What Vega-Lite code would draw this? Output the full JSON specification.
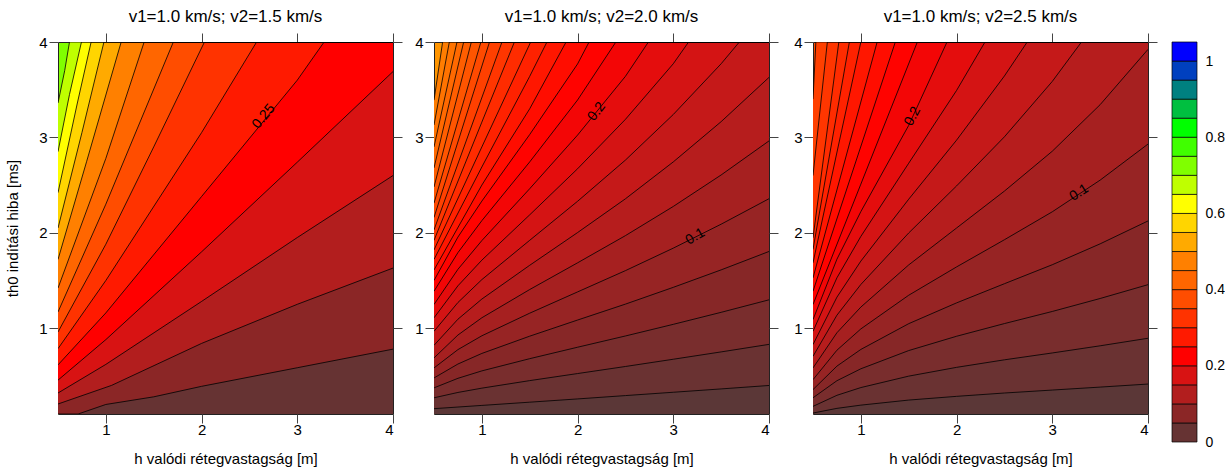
{
"$schema":"https://vega.github.io/schema/vega-lite/v6.json",
"padding":{"left":5,"top":7,"right":0,"bottom":0},
"background":"white",
"config":{"font":"Liberation Sans","view":{"stroke":"#222","strokeWidth":1},
"axis":{"grid":false,"domain":false,"tickColor":"#444","tickSize":9,"labelFontSize":15,"labelColor":"black","labelFont":"Liberation Sans","titleFont":"Liberation Sans","titleFontSize":15,"titleFontWeight":"normal","titleColor":"black"},
"title":{"fontSize":17,"fontWeight":"normal","color":"black","font":"Liberation Sans"}},
"datasets":{
"c":[
{"p":1,"lv":0.7,"h":0.5,"t":3.36},{"p":1,"lv":0.7,"h":0.57,"t":3.7},{"p":1,"lv":0.7,"h":0.62,"t":4},{"p":1,"lv":0.7,"h":4,"t":4},
{"p":1,"lv":0.65,"h":0.5,"t":2.85},{"p":1,"lv":0.65,"h":0.62,"t":3.45},{"p":1,"lv":0.65,"h":0.745,"t":4},{"p":1,"lv":0.65,"h":4,"t":4},
{"p":1,"lv":0.6,"h":0.5,"t":2.42},{"p":1,"lv":0.6,"h":0.7,"t":3.35},{"p":1,"lv":0.6,"h":0.846,"t":4},{"p":1,"lv":0.6,"h":4,"t":4},
{"p":1,"lv":0.55,"h":0.5,"t":2.05},{"p":1,"lv":0.55,"h":0.75,"t":3.05},{"p":1,"lv":0.55,"h":0.98,"t":4},{"p":1,"lv":0.55,"h":4,"t":4},
{"p":1,"lv":0.5,"h":0.5,"t":1.72},{"p":1,"lv":0.5,"h":0.8,"t":2.75},{"p":1,"lv":0.5,"h":1.16,"t":4},{"p":1,"lv":0.5,"h":4,"t":4},
{"p":1,"lv":0.45,"h":0.5,"t":1.42},{"p":1,"lv":0.45,"h":1,"t":2.78},{"p":1,"lv":0.45,"h":1.4,"t":4},{"p":1,"lv":0.45,"h":4,"t":4},
{"p":1,"lv":0.4,"h":0.5,"t":1.17},{"p":1,"lv":0.4,"h":1,"t":2.3},{"p":1,"lv":0.4,"h":1.705,"t":4},{"p":1,"lv":0.4,"h":4,"t":4},
{"p":1,"lv":0.35,"h":0.5,"t":0.96},{"p":1,"lv":0.35,"h":1,"t":1.88},{"p":1,"lv":0.35,"h":1.5,"t":2.9},{"p":1,"lv":0.35,"h":2.03,"t":4},{"p":1,"lv":0.35,"h":4,"t":4},
{"p":1,"lv":0.3,"h":0.5,"t":0.785},{"p":1,"lv":0.3,"h":1,"t":1.5},{"p":1,"lv":0.3,"h":2,"t":3.05},{"p":1,"lv":0.3,"h":2.575,"t":4},{"p":1,"lv":0.3,"h":4,"t":4},
{"p":1,"lv":0.25,"h":0.5,"t":0.615},{"p":1,"lv":0.25,"h":1,"t":1.16},{"p":1,"lv":0.25,"h":2,"t":2.38},{"p":1,"lv":0.25,"h":3,"t":3.6},{"p":1,"lv":0.25,"h":3.28,"t":4},{"p":1,"lv":0.25,"h":4,"t":4},
{"p":1,"lv":0.2,"h":0.5,"t":0.455},{"p":1,"lv":0.2,"h":1,"t":0.88},{"p":1,"lv":0.2,"h":2,"t":1.8},{"p":1,"lv":0.2,"h":3,"t":2.74},{"p":1,"lv":0.2,"h":4,"t":3.69},
{"p":1,"lv":0.15,"h":0.5,"t":0.32},{"p":1,"lv":0.15,"h":1,"t":0.62},{"p":1,"lv":0.15,"h":2,"t":1.28},{"p":1,"lv":0.15,"h":3,"t":1.95},{"p":1,"lv":0.15,"h":4,"t":2.6},
{"p":1,"lv":0.1,"h":0.5,"t":0.205},{"p":1,"lv":0.1,"h":1.06,"t":0.4},{"p":1,"lv":0.1,"h":2,"t":0.84},{"p":1,"lv":0.1,"h":3,"t":1.25},{"p":1,"lv":0.1,"h":4,"t":1.63},
{"p":1,"lv":0.05,"h":0.5,"t":0.1},{"p":1,"lv":0.05,"h":0.71,"t":0.1},{"p":1,"lv":0.05,"h":1,"t":0.2},{"p":1,"lv":0.05,"h":1.5,"t":0.28},{"p":1,"lv":0.05,"h":2,"t":0.39},{"p":1,"lv":0.05,"h":3,"t":0.585},{"p":1,"lv":0.05,"h":4,"t":0.78},

{"p":2,"lv":0.48,"h":0.5,"t":3.39},{"p":2,"lv":0.48,"h":0.59,"t":4},{"p":2,"lv":0.48,"h":4,"t":4},
{"p":2,"lv":0.46,"h":0.5,"t":3.13},{"p":2,"lv":0.46,"h":0.66,"t":4},{"p":2,"lv":0.46,"h":4,"t":4},
{"p":2,"lv":0.44,"h":0.5,"t":2.9},{"p":2,"lv":0.44,"h":0.74,"t":4},{"p":2,"lv":0.44,"h":4,"t":4},
{"p":2,"lv":0.42,"h":0.5,"t":2.68},{"p":2,"lv":0.42,"h":0.81,"t":4},{"p":2,"lv":0.42,"h":4,"t":4},
{"p":2,"lv":0.4,"h":0.5,"t":2.48},{"p":2,"lv":0.4,"h":0.89,"t":4},{"p":2,"lv":0.4,"h":4,"t":4},
{"p":2,"lv":0.38,"h":0.5,"t":2.31},{"p":2,"lv":0.38,"h":0.99,"t":4},{"p":2,"lv":0.38,"h":4,"t":4},
{"p":2,"lv":0.36,"h":0.5,"t":2.16},{"p":2,"lv":0.36,"h":1.08,"t":4},{"p":2,"lv":0.36,"h":4,"t":4},
{"p":2,"lv":0.34,"h":0.5,"t":2.03},{"p":2,"lv":0.34,"h":1.21,"t":4},{"p":2,"lv":0.34,"h":4,"t":4},
{"p":2,"lv":0.32,"h":0.5,"t":1.92},{"p":2,"lv":0.32,"h":1,"t":3.16},{"p":2,"lv":0.32,"h":1.34,"t":4},{"p":2,"lv":0.32,"h":4,"t":4},
{"p":2,"lv":0.3,"h":0.5,"t":1.82},{"p":2,"lv":0.3,"h":1,"t":2.9},{"p":2,"lv":0.3,"h":1.51,"t":4},{"p":2,"lv":0.3,"h":4,"t":4},
{"p":2,"lv":0.28,"h":0.5,"t":1.72},{"p":2,"lv":0.28,"h":1,"t":2.69},{"p":2,"lv":0.28,"h":1.5,"t":3.64},{"p":2,"lv":0.28,"h":1.68,"t":4},{"p":2,"lv":0.28,"h":4,"t":4},
{"p":2,"lv":0.26,"h":0.5,"t":1.61},{"p":2,"lv":0.26,"h":1,"t":2.5},{"p":2,"lv":0.26,"h":1.5,"t":3.3},{"p":2,"lv":0.26,"h":1.88,"t":4},{"p":2,"lv":0.26,"h":4,"t":4},
{"p":2,"lv":0.24,"h":0.5,"t":1.5},{"p":2,"lv":0.24,"h":0.75,"t":1.955},{"p":2,"lv":0.24,"h":1,"t":2.332},{"p":2,"lv":0.24,"h":1.5,"t":3.03},{"p":2,"lv":0.24,"h":2,"t":3.77},{"p":2,"lv":0.24,"h":2.12,"t":4},{"p":2,"lv":0.24,"h":4,"t":4},
{"p":2,"lv":0.22,"h":0.5,"t":1.387},{"p":2,"lv":0.22,"h":0.75,"t":1.792},{"p":2,"lv":0.22,"h":1,"t":2.127},{"p":2,"lv":0.22,"h":1.5,"t":2.743},{"p":2,"lv":0.22,"h":2,"t":3.392},{"p":2,"lv":0.22,"h":2.4,"t":4},{"p":2,"lv":0.22,"h":4,"t":4},
{"p":2,"lv":0.2,"h":0.5,"t":1.248},{"p":2,"lv":0.2,"h":0.75,"t":1.617},{"p":2,"lv":0.2,"h":1,"t":1.918},{"p":2,"lv":0.2,"h":1.5,"t":2.462},{"p":2,"lv":0.2,"h":2,"t":3.024},{"p":2,"lv":0.2,"h":2.5,"t":3.64},{"p":2,"lv":0.2,"h":2.74,"t":4},{"p":2,"lv":0.2,"h":4,"t":4},
{"p":2,"lv":0.18,"h":0.5,"t":1.108},{"p":2,"lv":0.18,"h":0.75,"t":1.444},{"p":2,"lv":0.18,"h":1,"t":1.713},{"p":2,"lv":0.18,"h":1.5,"t":2.188},{"p":2,"lv":0.18,"h":2,"t":2.671},{"p":2,"lv":0.18,"h":2.5,"t":3.189},{"p":2,"lv":0.18,"h":3,"t":3.772},{"p":2,"lv":0.18,"h":3.16,"t":4},{"p":2,"lv":0.18,"h":4,"t":4},
{"p":2,"lv":0.16,"h":0.5,"t":0.967},{"p":2,"lv":0.16,"h":0.75,"t":1.269},{"p":2,"lv":0.16,"h":1,"t":1.509},{"p":2,"lv":0.16,"h":1.5,"t":1.921},{"p":2,"lv":0.16,"h":2,"t":2.33},{"p":2,"lv":0.16,"h":2.5,"t":2.762},{"p":2,"lv":0.16,"h":3,"t":3.24},{"p":2,"lv":0.16,"h":3.5,"t":3.772},{"p":2,"lv":0.16,"h":3.69,"t":4},{"p":2,"lv":0.16,"h":4,"t":4},
{"p":2,"lv":0.14,"h":0.5,"t":0.82},{"p":2,"lv":0.14,"h":0.75,"t":1.094},{"p":2,"lv":0.14,"h":1,"t":1.305},{"p":2,"lv":0.14,"h":1.5,"t":1.659},{"p":2,"lv":0.14,"h":2,"t":2.002},{"p":2,"lv":0.14,"h":2.5,"t":2.356},{"p":2,"lv":0.14,"h":3,"t":2.743},{"p":2,"lv":0.14,"h":3.5,"t":3.165},{"p":2,"lv":0.14,"h":4,"t":3.629},
{"p":2,"lv":0.12,"h":0.5,"t":0.688},{"p":2,"lv":0.12,"h":0.75,"t":0.928},{"p":2,"lv":0.12,"h":1,"t":1.109},{"p":2,"lv":0.12,"h":1.5,"t":1.405},{"p":2,"lv":0.12,"h":2,"t":1.685},{"p":2,"lv":0.12,"h":2.5,"t":1.97},{"p":2,"lv":0.12,"h":3,"t":2.276},{"p":2,"lv":0.12,"h":3.5,"t":2.606},{"p":2,"lv":0.12,"h":4,"t":2.963},
{"p":2,"lv":0.1,"h":0.5,"t":0.583},{"p":2,"lv":0.1,"h":0.75,"t":0.775},{"p":2,"lv":0.1,"h":1,"t":0.92},{"p":2,"lv":0.1,"h":1.5,"t":1.157},{"p":2,"lv":0.1,"h":2,"t":1.38},{"p":2,"lv":0.1,"h":2.5,"t":1.603},{"p":2,"lv":0.1,"h":3,"t":1.839},{"p":2,"lv":0.1,"h":3.5,"t":2.09},{"p":2,"lv":0.1,"h":4,"t":2.357},
{"p":2,"lv":0.08,"h":0.5,"t":0.478},{"p":2,"lv":0.08,"h":0.75,"t":0.624},{"p":2,"lv":0.08,"h":1,"t":0.735},{"p":2,"lv":0.08,"h":1.5,"t":0.916},{"p":2,"lv":0.08,"h":2,"t":1.085},{"p":2,"lv":0.08,"h":2.5,"t":1.252},{"p":2,"lv":0.08,"h":3,"t":1.428},{"p":2,"lv":0.08,"h":3.5,"t":1.611},{"p":2,"lv":0.08,"h":4,"t":1.804},
{"p":2,"lv":0.06,"h":0.5,"t":0.374},{"p":2,"lv":0.06,"h":0.75,"t":0.474},{"p":2,"lv":0.06,"h":1,"t":0.552},{"p":2,"lv":0.06,"h":1.5,"t":0.68},{"p":2,"lv":0.06,"h":2,"t":0.8},{"p":2,"lv":0.06,"h":2.5,"t":0.918},{"p":2,"lv":0.06,"h":3,"t":1.04},{"p":2,"lv":0.06,"h":3.5,"t":1.166},{"p":2,"lv":0.06,"h":4,"t":1.297},
{"p":2,"lv":0.04,"h":0.5,"t":0.27},{"p":2,"lv":0.04,"h":0.75,"t":0.326},{"p":2,"lv":0.04,"h":1,"t":0.371},{"p":2,"lv":0.04,"h":1.5,"t":0.45},{"p":2,"lv":0.04,"h":2,"t":0.524},{"p":2,"lv":0.04,"h":2.5,"t":0.598},{"p":2,"lv":0.04,"h":3,"t":0.674},{"p":2,"lv":0.04,"h":3.5,"t":0.751},{"p":2,"lv":0.04,"h":4,"t":0.83},
{"p":2,"lv":0.02,"h":0.5,"t":0.156},{"p":2,"lv":0.02,"h":0.75,"t":0.173},{"p":2,"lv":0.02,"h":1,"t":0.19},{"p":2,"lv":0.02,"h":1.5,"t":0.224},{"p":2,"lv":0.02,"h":2,"t":0.258},{"p":2,"lv":0.02,"h":2.5,"t":0.293},{"p":2,"lv":0.02,"h":3,"t":0.328},{"p":2,"lv":0.02,"h":3.5,"t":0.363},{"p":2,"lv":0.02,"h":4,"t":0.399},

{"p":3,"lv":0.36,"h":0.5,"t":3.4},{"p":3,"lv":0.36,"h":0.53,"t":4},{"p":3,"lv":0.36,"h":4,"t":4},
{"p":3,"lv":0.34,"h":0.5,"t":2.6},{"p":3,"lv":0.34,"h":0.65,"t":4},{"p":3,"lv":0.34,"h":4,"t":4},
{"p":3,"lv":0.32,"h":0.5,"t":1.947},{"p":3,"lv":0.32,"h":0.77,"t":4},{"p":3,"lv":0.32,"h":4,"t":4},
{"p":3,"lv":0.3,"h":0.5,"t":1.825},{"p":3,"lv":0.3,"h":0.88,"t":4},{"p":3,"lv":0.3,"h":4,"t":4},
{"p":3,"lv":0.28,"h":0.5,"t":1.685},{"p":3,"lv":0.28,"h":1.0,"t":4},{"p":3,"lv":0.28,"h":4,"t":4},
{"p":3,"lv":0.26,"h":0.5,"t":1.527},{"p":3,"lv":0.26,"h":1.17,"t":4},{"p":3,"lv":0.26,"h":4,"t":4},
{"p":3,"lv":0.24,"h":0.5,"t":1.387},{"p":3,"lv":0.24,"h":1.36,"t":4},{"p":3,"lv":0.24,"h":4,"t":4},
{"p":3,"lv":0.22,"h":0.5,"t":1.248},{"p":3,"lv":0.22,"h":1,"t":2.51},{"p":3,"lv":0.22,"h":1.59,"t":4},{"p":3,"lv":0.22,"h":4,"t":4},
{"p":3,"lv":0.2,"h":0.5,"t":1.09},{"p":3,"lv":0.2,"h":0.75,"t":1.723},{"p":3,"lv":0.2,"h":1,"t":2.222},{"p":3,"lv":0.2,"h":1.5,"t":3.126},{"p":3,"lv":0.2,"h":1.9,"t":4},{"p":3,"lv":0.2,"h":4,"t":4},
{"p":3,"lv":0.18,"h":0.5,"t":0.967},{"p":3,"lv":0.18,"h":0.75,"t":1.528},{"p":3,"lv":0.18,"h":1,"t":1.962},{"p":3,"lv":0.18,"h":1.5,"t":2.729},{"p":3,"lv":0.18,"h":2,"t":3.492},{"p":3,"lv":0.18,"h":2.297,"t":4},{"p":3,"lv":0.18,"h":4,"t":4},
{"p":3,"lv":0.16,"h":0.5,"t":0.828},{"p":3,"lv":0.16,"h":0.75,"t":1.325},{"p":3,"lv":0.16,"h":1,"t":1.703},{"p":3,"lv":0.16,"h":1.5,"t":2.352},{"p":3,"lv":0.16,"h":2,"t":2.971},{"p":3,"lv":0.16,"h":2.5,"t":3.644},{"p":3,"lv":0.16,"h":2.738,"t":4},{"p":3,"lv":0.16,"h":4,"t":4},
{"p":3,"lv":0.14,"h":0.5,"t":0.705},{"p":3,"lv":0.14,"h":0.75,"t":1.136},{"p":3,"lv":0.14,"h":1,"t":1.458},{"p":3,"lv":0.14,"h":1.5,"t":1.998},{"p":3,"lv":0.14,"h":2,"t":2.491},{"p":3,"lv":0.14,"h":2.5,"t":3.006},{"p":3,"lv":0.14,"h":3,"t":3.587},{"p":3,"lv":0.14,"h":3.305,"t":4},{"p":3,"lv":0.14,"h":4,"t":4},
{"p":3,"lv":0.12,"h":0.5,"t":0.583},{"p":3,"lv":0.12,"h":0.75,"t":0.952},{"p":3,"lv":0.12,"h":1,"t":1.221},{"p":3,"lv":0.12,"h":1.5,"t":1.663},{"p":3,"lv":0.12,"h":2,"t":2.05},{"p":3,"lv":0.12,"h":2.5,"t":2.437},{"p":3,"lv":0.12,"h":3,"t":2.855},{"p":3,"lv":0.12,"h":3.5,"t":3.343},{"p":3,"lv":0.12,"h":4,"t":3.923},
{"p":3,"lv":0.1,"h":0.5,"t":0.46},{"p":3,"lv":0.1,"h":0.75,"t":0.769},{"p":3,"lv":0.1,"h":1,"t":0.992},{"p":3,"lv":0.1,"h":1.5,"t":1.345},{"p":3,"lv":0.1,"h":2,"t":1.642},{"p":3,"lv":0.1,"h":2.5,"t":1.927},{"p":3,"lv":0.1,"h":3,"t":2.22},{"p":3,"lv":0.1,"h":3.5,"t":2.552},{"p":3,"lv":0.1,"h":4,"t":2.93},
{"p":3,"lv":0.08,"h":0.5,"t":0.356},{"p":3,"lv":0.08,"h":0.75,"t":0.602},{"p":3,"lv":0.08,"h":1,"t":0.777},{"p":3,"lv":0.08,"h":1.5,"t":1.047},{"p":3,"lv":0.08,"h":2,"t":1.265},{"p":3,"lv":0.08,"h":2.5,"t":1.466},{"p":3,"lv":0.08,"h":3,"t":1.665},{"p":3,"lv":0.08,"h":3.5,"t":1.884},{"p":3,"lv":0.08,"h":4,"t":2.124},
{"p":3,"lv":0.06,"h":0.5,"t":0.27},{"p":3,"lv":0.06,"h":0.75,"t":0.449},{"p":3,"lv":0.06,"h":1,"t":0.574},{"p":3,"lv":0.06,"h":1.5,"t":0.765},{"p":3,"lv":0.06,"h":2,"t":0.915},{"p":3,"lv":0.06,"h":2.5,"t":1.048},{"p":3,"lv":0.06,"h":3,"t":1.175},{"p":3,"lv":0.06,"h":3.5,"t":1.311},{"p":3,"lv":0.06,"h":4,"t":1.456},
{"p":3,"lv":0.04,"h":0.5,"t":0.18},{"p":3,"lv":0.04,"h":0.75,"t":0.296},{"p":3,"lv":0.04,"h":1,"t":0.377},{"p":3,"lv":0.04,"h":1.5,"t":0.497},{"p":3,"lv":0.04,"h":2,"t":0.589},{"p":3,"lv":0.04,"h":2.5,"t":0.668},{"p":3,"lv":0.04,"h":3,"t":0.74},{"p":3,"lv":0.04,"h":3.5,"t":0.815},{"p":3,"lv":0.04,"h":4,"t":0.894},
{"p":3,"lv":0.02,"h":0.5,"t":0.11},{"p":3,"lv":0.02,"h":0.75,"t":0.159},{"p":3,"lv":0.02,"h":1,"t":0.193},{"p":3,"lv":0.02,"h":1.5,"t":0.246},{"p":3,"lv":0.02,"h":2,"t":0.285},{"p":3,"lv":0.02,"h":2.5,"t":0.32},{"p":3,"lv":0.02,"h":3,"t":0.351},{"p":3,"lv":0.02,"h":3.5,"t":0.382},{"p":3,"lv":0.02,"h":4,"t":0.414}
],
"lg":[
{"lo":0,"hi":0.05},{"lo":0.05,"hi":0.1},{"lo":0.1,"hi":0.15},{"lo":0.15,"hi":0.2},{"lo":0.2,"hi":0.25},{"lo":0.25,"hi":0.3},{"lo":0.3,"hi":0.35},{"lo":0.35,"hi":0.4},{"lo":0.4,"hi":0.45},{"lo":0.45,"hi":0.5},{"lo":0.5,"hi":0.55},{"lo":0.55,"hi":0.6},{"lo":0.6,"hi":0.65},{"lo":0.65,"hi":0.7},{"lo":0.7,"hi":0.75},{"lo":0.75,"hi":0.8},{"lo":0.8,"hi":0.85},{"lo":0.85,"hi":0.9},{"lo":0.9,"hi":0.95},{"lo":0.95,"hi":1.0},{"lo":1.0,"hi":1.05}
],
"lb":[
{"p":1,"lab":"0.25","h":2.65,"t":3.22},
{"p":2,"lab":"0.2","h":2.2,"t":3.27},
{"p":2,"lab":"0.1","h":3.23,"t":1.96},
{"p":3,"lab":"0.2","h":1.54,"t":3.22},
{"p":3,"lab":"0.1","h":3.28,"t":2.42}
]
},
"resolve":{"scale":{"color":"independent"}},
"bounds":"full",
"spacing":10,
"hconcat":[
{"width":335,"height":372,
"title":{"text":"v1=1.0 km/s; v2=1.5 km/s","offset":6.2},
"view":{"fill":"#80FF00","stroke":"#222"},
"resolve":{"axis":{"x":"independent","y":"independent"}},
"layer":[
{"data":{"name":"c"},"transform":[{"filter":"datum.p==1"}],
"mark":{"type":"area","clip":true},
"encoding":{
"x":{"field":"h","type":"quantitative","scale":{"domain":[0.5,4],"nice":false,"zero":false},"axis":{"values":[1,2,3,4],"orient":"bottom","title":"h valódi rétegvastagság [m]","labelPadding":-1,"titlePadding":14}},
"y":{"field":"t","type":"quantitative","stack":null,"scale":{"domain":[0.1,4],"nice":false,"zero":false},"axis":{"values":[1,2,3,4],"orient":"left","title":"th0 indítási hiba [ms]","labelPadding":2,"titlePadding":18}},
"y2":{"datum":0.1},
"color":{"field":"lv","type":"quantitative","legend":null,"scale":{"interpolate":"rgb","domain":[0.05,0.1,0.15,0.2,0.25,0.3,0.35,0.4,0.45,0.5,0.55,0.6,0.65,0.7,0.75,0.8,0.85,0.9,0.95,1.0,1.05],"range":["#663333","#8B2626","#B21E1E","#D81313","#FF0000","#FF1A00","#FF3300","#FF4D00","#FF6600","#FF8000","#FFAA00","#FFD500","#FFFF00","#BFFF00","#80FF00","#40FF00","#00FF00","#00BF40","#008080","#0040BF","#0000FF"]}}}},
{"data":{"name":"c"},"transform":[{"filter":"datum.p==1"}],
"mark":{"type":"line","stroke":"black","strokeWidth":0.8,"clip":true},
"encoding":{
"x":{"field":"h","type":"quantitative","axis":{"values":[1,2,3,4],"orient":"top","labels":false,"title":null}},
"y":{"field":"t","type":"quantitative","axis":{"values":[1,2,3,4],"orient":"right","labels":false,"title":null,"minExtent":10.3,"maxExtent":10.3}},
"detail":{"field":"lv"}}},
{"data":{"name":"lb"},"transform":[{"filter":"datum.p==1"}],
"mark":{"type":"text","angle":-50,"fontSize":14,"font":"Liberation Sans","color":"black"},
"encoding":{"x":{"field":"h","type":"quantitative","axis":null},"y":{"field":"t","type":"quantitative","axis":null},"text":{"field":"lab"}}}
]},
{"width":335,"height":372,
"title":{"text":"v1=1.0 km/s; v2=2.0 km/s","offset":6.2},
"view":{"fill":"#FF9500","stroke":"#222"},
"resolve":{"axis":{"x":"independent","y":"independent"}},
"layer":[
{"data":{"name":"c"},"transform":[{"filter":"datum.p==2"}],
"mark":{"type":"area","clip":true},
"encoding":{
"x":{"field":"h","type":"quantitative","scale":{"domain":[0.5,4],"nice":false,"zero":false},"axis":{"values":[1,2,3,4],"orient":"bottom","title":"h valódi rétegvastagság [m]","labelPadding":-1,"titlePadding":14}},
"y":{"field":"t","type":"quantitative","stack":null,"scale":{"domain":[0.1,4],"nice":false,"zero":false},"axis":{"values":[1,2,3,4],"orient":"left","title":null,"labelPadding":2}},
"y2":{"datum":0.1},
"color":{"field":"lv","type":"quantitative","legend":null,"scale":{"interpolate":"rgb","domain":[0.035,0.085,0.135,0.185,0.235,0.285,0.335,0.385,0.435,0.485,0.535,0.585,0.635,0.685,0.735,0.785,0.835,0.885,0.935,0.985,1.035],"range":["#663333","#8B2626","#B21E1E","#D81313","#FF0000","#FF1A00","#FF3300","#FF4D00","#FF6600","#FF8000","#FFAA00","#FFD500","#FFFF00","#BFFF00","#80FF00","#40FF00","#00FF00","#00BF40","#008080","#0040BF","#0000FF"]}}}},
{"data":{"name":"c"},"transform":[{"filter":"datum.p==2"}],
"mark":{"type":"line","stroke":"black","strokeWidth":0.8,"clip":true},
"encoding":{
"x":{"field":"h","type":"quantitative","axis":{"values":[1,2,3,4],"orient":"top","labels":false,"title":null}},
"y":{"field":"t","type":"quantitative","axis":{"values":[1,2,3,4],"orient":"right","labels":false,"title":null,"minExtent":12.6,"maxExtent":12.6}},
"detail":{"field":"lv"}}},
{"data":{"name":"lb"},"transform":[{"filter":"datum.p==2 && datum.lab=='0.2'"}],
"mark":{"type":"text","angle":-52,"fontSize":14,"font":"Liberation Sans","color":"black"},
"encoding":{"x":{"field":"h","type":"quantitative","axis":null},"y":{"field":"t","type":"quantitative","axis":null},"text":{"field":"lab"}}},
{"data":{"name":"lb"},"transform":[{"filter":"datum.p==2 && datum.lab=='0.1'"}],
"mark":{"type":"text","angle":-30,"fontSize":14,"font":"Liberation Sans","color":"black"},
"encoding":{"x":{"field":"h","type":"quantitative","axis":null},"y":{"field":"t","type":"quantitative","axis":null},"text":{"field":"lab"}}}
]},
{"width":335,"height":372,
"title":{"text":"v1=1.0 km/s; v2=2.5 km/s","offset":6.2},
"view":{"fill":"#FF4A00","stroke":"#222"},
"resolve":{"axis":{"x":"independent","y":"independent"}},
"layer":[
{"data":{"name":"c"},"transform":[{"filter":"datum.p==3"}],
"mark":{"type":"area","clip":true},
"encoding":{
"x":{"field":"h","type":"quantitative","scale":{"domain":[0.5,4],"nice":false,"zero":false},"axis":{"values":[1,2,3,4],"orient":"bottom","title":"h valódi rétegvastagság [m]","labelPadding":-1,"titlePadding":14}},
"y":{"field":"t","type":"quantitative","stack":null,"scale":{"domain":[0.1,4],"nice":false,"zero":false},"axis":{"values":[1,2,3,4],"orient":"left","title":null,"labelPadding":2}},
"y2":{"datum":0.1},
"color":{"field":"lv","type":"quantitative","legend":null,"scale":{"interpolate":"rgb","domain":[0.035,0.085,0.135,0.185,0.235,0.285,0.335,0.385,0.435,0.485,0.535,0.585,0.635,0.685,0.735,0.785,0.835,0.885,0.935,0.985,1.035],"range":["#663333","#8B2626","#B21E1E","#D81313","#FF0000","#FF1A00","#FF3300","#FF4D00","#FF6600","#FF8000","#FFAA00","#FFD500","#FFFF00","#BFFF00","#80FF00","#40FF00","#00FF00","#00BF40","#008080","#0040BF","#0000FF"]}}}},
{"data":{"name":"c"},"transform":[{"filter":"datum.p==3"}],
"mark":{"type":"line","stroke":"black","strokeWidth":0.8,"clip":true},
"encoding":{
"x":{"field":"h","type":"quantitative","axis":{"values":[1,2,3,4],"orient":"top","labels":false,"title":null}},
"y":{"field":"t","type":"quantitative","axis":{"values":[1,2,3,4],"orient":"right","labels":false,"title":null,"minExtent":12.2,"maxExtent":12.2}},
"detail":{"field":"lv"}}},
{"data":{"name":"lb"},"transform":[{"filter":"datum.p==3 && datum.lab=='0.2'"}],
"mark":{"type":"text","angle":-62,"fontSize":14,"font":"Liberation Sans","color":"black"},
"encoding":{"x":{"field":"h","type":"quantitative","axis":null},"y":{"field":"t","type":"quantitative","axis":null},"text":{"field":"lab"}}},
{"data":{"name":"lb"},"transform":[{"filter":"datum.p==3 && datum.lab=='0.1'"}],
"mark":{"type":"text","angle":-32,"fontSize":14,"font":"Liberation Sans","color":"black"},
"encoding":{"x":{"field":"h","type":"quantitative","axis":null},"y":{"field":"t","type":"quantitative","axis":null},"text":{"field":"lab"}}}
]},
{"width":25,"height":400,
"data":{"name":"lg"},
"view":{"stroke":null},
"mark":{"type":"rect","stroke":"black","strokeWidth":0.7},
"encoding":{
"y":{"field":"lo","type":"quantitative","scale":{"domain":[0,1.05],"nice":false,"zero":false},"axis":{"orient":"right","values":[0,0.2,0.4,0.6,0.8,1],"format":"~g","ticks":false,"title":null,"labelPadding":8,"labelFontSize":14}},
"y2":{"field":"hi"},
"color":{"field":"lo","type":"quantitative","legend":null,"scale":{"interpolate":"rgb","domain":[0,0.05,0.1,0.15,0.2,0.25,0.3,0.35,0.4,0.45,0.5,0.55,0.6,0.65,0.7,0.75,0.8,0.85,0.9,0.95,1.0],"range":["#663333","#8B2626","#B21E1E","#D81313","#FF0000","#FF1A00","#FF3300","#FF4D00","#FF6600","#FF8000","#FFAA00","#FFD500","#FFFF00","#BFFF00","#80FF00","#40FF00","#00FF00","#00BF40","#008080","#0040BF","#0000FF"]}}}}
]
}
